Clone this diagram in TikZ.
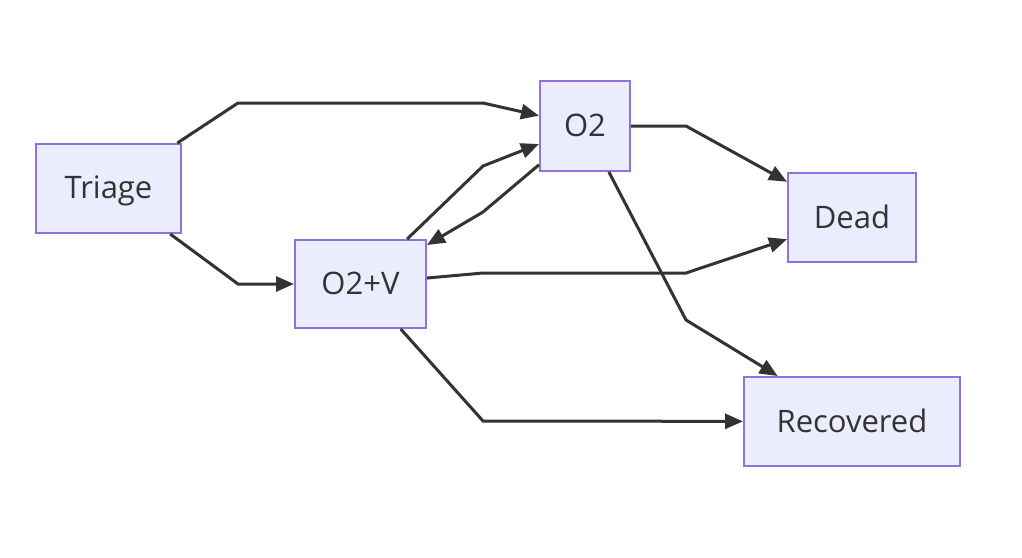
\documentclass[tikz,border=0pt]{standalone}
\usepackage{fontspec}
\setmainfont{Open Sans}
\usetikzlibrary{arrows.meta}
\definecolor{boxfill}{HTML}{ECECFF}
\definecolor{boxline}{HTML}{9370DB}
\definecolor{ink}{HTML}{333333}
\begin{document}
\begin{tikzpicture}[
    x=1pt, y=-1pt,
    font=\fontsize{31}{37}\selectfont,
    state/.style={draw=boxline, fill=boxfill, line width=2pt, inner sep=0pt,
                  minimum height=89pt, text=ink, text depth=2pt},
    flow/.style={draw=ink, line width=3pt, line join=miter,
                 -{Triangle[length=18pt, width=15pt]}},
  ]
  \useasboundingbox (0,0) rectangle (1022,557);
  % states
  \node[state, minimum width=145pt] (triage)    at (108.5,188.5) {Triage};
  \node[state, minimum width=90pt, minimum height=90pt] (o2) at (585,126) {O2};
  \node[state, minimum width=131pt, minimum height=88pt] (o2v) at (360.5,284) {O2+V};
  \node[state, minimum width=128pt] (dead)      at (852,217.5) {Dead};
  \node[state, minimum width=216pt] (recovered) at (852,421.5) {Recovered};
  % transitions
  \draw[flow] (triage) -- (238,103) -- (483,103) -- (o2);
  \draw[flow] (triage) -- (238,284) -- (o2v);
  \draw[flow] (o2v) -- (483,166) -- (o2);
  \draw[flow] (o2) -- (483,212) -- (o2v);
  \draw[flow] (o2) -- (686,126) -- (dead);
  \draw[flow] (o2v) -- (483,273) -- (686,273) -- (dead);
  \draw[flow] (o2) -- (686,320) -- (recovered);
  \draw[flow] (o2v) -- (483,421) -- (recovered);
\end{tikzpicture}
\end{document}
